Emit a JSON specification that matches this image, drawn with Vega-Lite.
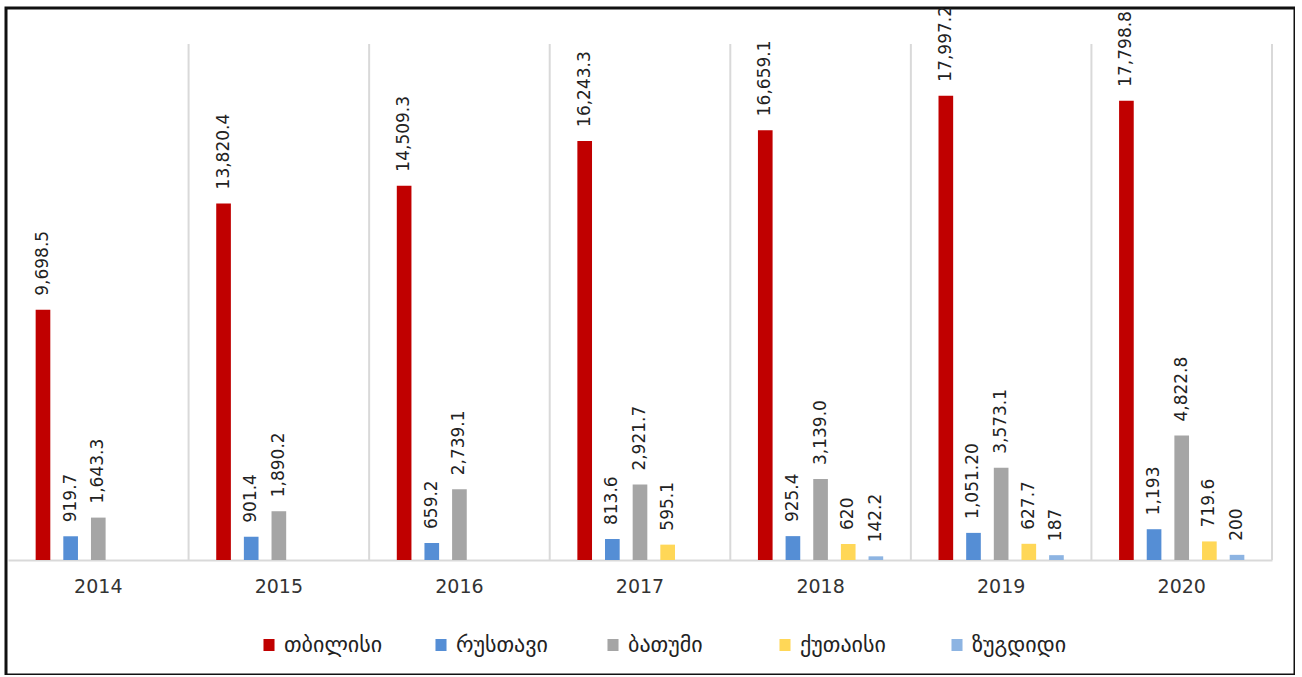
{
  "$schema": "https://vega.github.io/schema/vega-lite/v6.json",
  "width": 1289,
  "height": 667,
  "autosize": "none",
  "padding": {"left": 6, "top": 8, "right": 0, "bottom": 0},
  "background": "white",
  "config": {
    "view": {"stroke": "#111111", "strokeWidth": 3},
    "font": "DejaVu Sans"
  },
  "data": {
    "values": [
      {"year": "2014", "city": "თბილისი", "value": 9698.5, "label": "9,698.5"},
      {"year": "2014", "city": "რუსთავი", "value": 919.7, "label": "919.7"},
      {"year": "2014", "city": "ბათუმი", "value": 1643.3, "label": "1,643.3"},
      {"year": "2015", "city": "თბილისი", "value": 13820.4, "label": "13,820.4"},
      {"year": "2015", "city": "რუსთავი", "value": 901.4, "label": "901.4"},
      {"year": "2015", "city": "ბათუმი", "value": 1890.2, "label": "1,890.2"},
      {"year": "2016", "city": "თბილისი", "value": 14509.3, "label": "14,509.3"},
      {"year": "2016", "city": "რუსთავი", "value": 659.2, "label": "659.2"},
      {"year": "2016", "city": "ბათუმი", "value": 2739.1, "label": "2,739.1"},
      {"year": "2017", "city": "თბილისი", "value": 16243.3, "label": "16,243.3"},
      {"year": "2017", "city": "რუსთავი", "value": 813.6, "label": "813.6"},
      {"year": "2017", "city": "ბათუმი", "value": 2921.7, "label": "2,921.7"},
      {"year": "2017", "city": "ქუთაისი", "value": 595.1, "label": "595.1"},
      {"year": "2018", "city": "თბილისი", "value": 16659.1, "label": "16,659.1"},
      {"year": "2018", "city": "რუსთავი", "value": 925.4, "label": "925.4"},
      {"year": "2018", "city": "ბათუმი", "value": 3139.0, "label": "3,139.0"},
      {"year": "2018", "city": "ქუთაისი", "value": 620, "label": "620"},
      {"year": "2018", "city": "ზუგდიდი", "value": 142.2, "label": "142.2"},
      {"year": "2019", "city": "თბილისი", "value": 17997.2, "label": "17,997.2"},
      {"year": "2019", "city": "რუსთავი", "value": 1051.2, "label": "1,051.20"},
      {"year": "2019", "city": "ბათუმი", "value": 3573.1, "label": "3,573.1"},
      {"year": "2019", "city": "ქუთაისი", "value": 627.7, "label": "627.7"},
      {"year": "2019", "city": "ზუგდიდი", "value": 187, "label": "187"},
      {"year": "2020", "city": "თბილისი", "value": 17798.8, "label": "17,798.8"},
      {"year": "2020", "city": "რუსთავი", "value": 1193, "label": "1,193"},
      {"year": "2020", "city": "ბათუმი", "value": 4822.8, "label": "4,822.8"},
      {"year": "2020", "city": "ქუთაისი", "value": 719.6, "label": "719.6"},
      {"year": "2020", "city": "ზუგდიდი", "value": 200, "label": "200"}
    ]
  },
  "resolve": {"axis": {"x": "independent"}},
  "layer": [
    {
      "transform": [{"aggregate": [{"op": "count", "as": "n"}], "groupby": ["year"]}],
      "mark": {"type": "rule", "color": "#d9d9d9", "strokeWidth": 2},
      "encoding": {
        "x": {
          "field": "year",
          "type": "nominal",
          "bandPosition": 1,
          "scale": {"range": [2, 1266], "paddingInner": 0, "paddingOuter": 0},
          "axis": null
        },
        "y": {
          "datum": 20000,
          "type": "quantitative",
          "scale": {"domain": [0, 20000], "range": [552, 36], "nice": false},
          "axis": null
        },
        "y2": {"datum": 0}
      }
    },
    {
      "mark": {"type": "bar"},
      "encoding": {
        "x": {"field": "year", "type": "nominal", "axis": null},
        "xOffset": {
          "field": "city",
          "type": "nominal",
          "sort": ["თბილისი", "რუსთავი", "ბათუმი", "ქუთაისი", "ზუგდიდი"],
          "scale": {"paddingInner": 0.47, "paddingOuter": 1.14}
        },
        "y": {"field": "value", "type": "quantitative", "axis": null},
        "color": {
          "field": "city",
          "type": "nominal",
          "sort": ["თბილისი", "რუსთავი", "ბათუმი", "ქუთაისი", "ზუგდიდი"],
          "scale": {
            "domain": ["თბილისი", "რუსთავი", "ბათუმი", "ქუთაისი", "ზუგდიდი"],
            "range": ["#C00000", "#558ED5", "#A5A5A5", "#FFD757", "#8DB4E2"]
          },
          "legend": {
            "title": null,
            "orient": "none",
            "direction": "horizontal",
            "columns": 5,
            "gridAlign": "all",
            "legendX": 252,
            "legendY": 626,
            "padding": 0,
            "symbolType": "M-0.92,-1H0.92V1H-0.92Z",
            "symbolSize": 144,
            "symbolStrokeWidth": 0,
            "labelFont": "DejaVu Sans",
            "labelFontSize": 22,
            "labelColor": "#222222",
            "labelOffset": 4,
            "columnPadding": 47
          }
        }
      }
    },
    {
      "mark": {
        "type": "text",
        "angle": 270,
        "align": "left",
        "baseline": "middle",
        "dx": 14,
        "font": "DejaVu Sans",
        "fontSize": 17,
        "color": "#222222"
      },
      "encoding": {
        "x": {
          "field": "year",
          "type": "nominal",
          "axis": {
            "title": null,
            "orient": "bottom",
            "offset": -115,
            "labelAngle": 0,
            "labelFont": "DejaVu Sans",
            "labelFontSize": 19,
            "labelColor": "#333333",
            "labelPadding": 17,
            "ticks": false,
            "grid": false,
            "domainColor": "#d9d9d9",
            "domainWidth": 2
          }
        },
        "xOffset": {
          "field": "city",
          "type": "nominal",
          "sort": ["თბილისი", "რუსთავი", "ბათუმი", "ქუთაისი", "ზუგდიდი"]
        },
        "y": {"field": "value", "type": "quantitative", "axis": null},
        "text": {"field": "label", "type": "nominal"}
      }
    }
  ]
}
